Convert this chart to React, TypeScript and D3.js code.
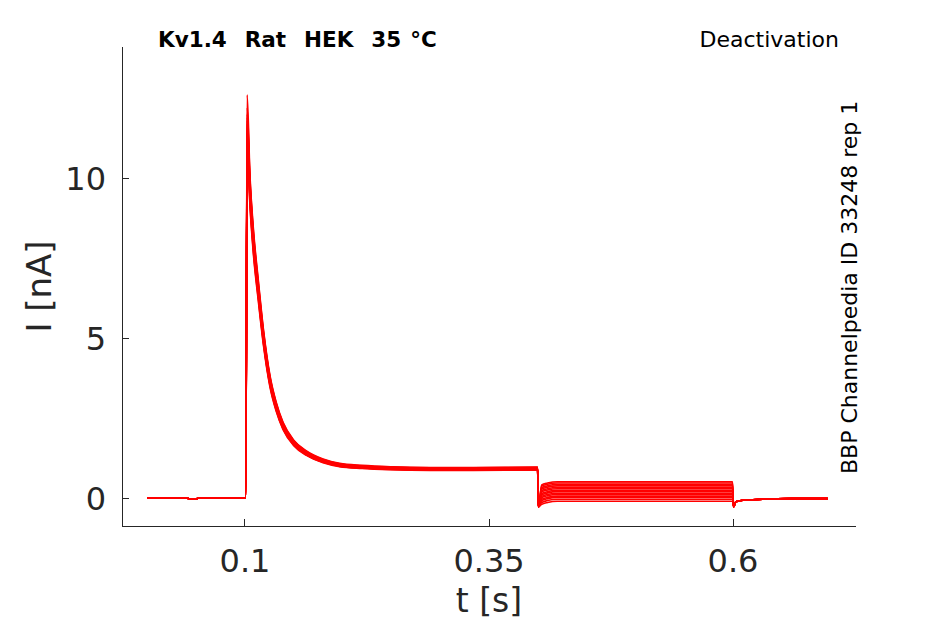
import React from "react";
import * as d3 from "d3";

// ---- data ----
const xTicks = [0.1, 0.35, 0.6];
const xTickLabels = ["0.1", "0.35", "0.6"];
const yTicks = [0, 5, 10];
const yTickLabels = ["0", "5", "10"];

// holding period before the step (shared by all sweeps)
const baseT = [0.0, 0.041, 0.043, 0.05, 0.052, 0.1008];
const baseI = [0.0, 0.0, -0.04, -0.04, 0.0, 0.0];

// activation / inactivation shape after the peak (nA), shared
const actT = [0.1051, 0.1085, 0.1136, 0.119, 0.1256, 0.132, 0.139, 0.15, 0.163, 0.18, 0.197, 0.22, 0.249, 0.29, 0.334, 0.3998];
const actI = [9.6, 8.06, 6.5, 5.0, 3.65, 2.85, 2.25, 1.72, 1.4, 1.16, 1.03, 0.97, 0.93, 0.91, 0.91, 0.92];
const peakT = 0.1022;

// per-sweep values
const sweepPeak = [12.6, 12.2, 12.0, 11.9, 11.8, 11.7, 11.6, 11.5, 11.4, 11.3, 11.2, 11.1, 11.05, 11.0];
const sweepGain = [1.05, 1.04, 1.03, 1.02, 1.02, 1.01, 1.0, 1.0, 0.99, 0.98, 0.98, 0.97, 0.96, 0.95];
const tailLevel = [0.51, 0.47, 0.42, 0.38, 0.33, 0.29, 0.24, 0.2, 0.15, 0.11, 0.06, 0.02, -0.04, -0.1];

// deactivation step transient (relative to each sweep's tail level)
const tailT = [0.4006, 0.404, 0.41, 0.42, 0.5995];
const tailDip = -0.28;
const tailRelax = [null, -0.1, -0.04, 0.0, 0.0];

// return to holding (shared)
const endT = [0.6006, 0.603, 0.61, 0.63, 0.66, 0.697];
const endI = [-0.27, -0.12, -0.07, -0.04, -0.02, -0.02];

const titleText = "Kv1.4  Rat  HEK  35 °C";
const protocolText = "Deactivation";
const sideText = "BBP Channelpedia ID 33248 rep 1";
const xLabel = "t [s]";
const yLabel = "I [nA]";

type Pt = [number, number];

function buildSweep(i: number): Pt[] {
  const pts: Pt[] = [];
  baseT.forEach((t, k) => pts.push([t, baseI[k]]));
  pts.push([peakT, sweepPeak[i]]);
  actT.forEach((t, k) => pts.push([t, actI[k] * sweepGain[i]]));
  tailT.forEach((t, k) => {
    const r = tailRelax[k];
    pts.push([t, r === null ? tailDip : tailLevel[i] + r]);
  });
  endT.forEach((t, k) => pts.push([t, endI[k]]));
  return pts;
}

export default function App() {
  const W = 945;
  const H = 624;
  const left = 122;
  const right = 856;
  const top = 47;
  const bottom = 526;

  const x = d3.scaleLinear().domain([-0.026, 0.726]).range([left, right]);
  const y = d3.scaleLinear().domain([-0.875, 14.094]).range([bottom, top]);

  const line = d3
    .line<Pt>()
    .x((d) => x(d[0]))
    .y((d) => y(d[1]))
    .curve(d3.curveMonotoneX);

  const sweeps = sweepPeak.map((_, i) => buildSweep(i));
  const axisColor = "#262626";
  const font = "'DejaVu Sans', sans-serif";

  return (
    <svg
      width={W}
      height={H}
      viewBox={`0 0 ${W} ${H}`}
      style={{ position: "absolute", left: 0, top: 0, background: "#fff" }}
      fontFamily={font}
    >
      <rect x={0} y={0} width={W} height={H} fill="#fff" />
      {/* traces */}
      <g>
        {sweeps.map((s, i) => (
          <path key={i} d={line(s) || ""} fill="none" stroke="#ff0000" strokeWidth={1.6} strokeLinejoin="round" />
        ))}
      </g>
      {/* axes */}
      <g stroke={axisColor} strokeWidth={1} fill="none" shapeRendering="crispEdges">
        <line x1={left} y1={top} x2={left} y2={bottom} />
        <line x1={left} y1={bottom} x2={right} y2={bottom} />
        {xTicks.map((t) => (
          <line key={"xt" + t} x1={x(t)} x2={x(t)} y1={bottom} y2={bottom - 7} />
        ))}
        {yTicks.map((t) => (
          <line key={"yt" + t} x1={left} x2={left + 7} y1={y(t)} y2={y(t)} />
        ))}
      </g>
      {xTicks.map((t, k) => (
        <text key={"xl" + t} x={x(t)} y={572} textAnchor="middle" fontSize={32} fill={axisColor}>
          {xTickLabels[k]}
        </text>
      ))}
      {yTicks.map((t, k) => (
        <text key={"yl" + t} x={106} y={y(t)} dy="0.36em" textAnchor="end" fontSize={32} fill={axisColor}>
          {yTickLabels[k]}
        </text>
      ))}
      <text x={x(0.35)} y={612} textAnchor="middle" fontSize={33} fill={axisColor}>
        {xLabel}
      </text>
      <text
        transform={`translate(51, ${(top + bottom) / 2}) rotate(-90)`}
        textAnchor="middle"
        fontSize={34}
        fill={axisColor}
      >
        {yLabel}
      </text>
      <text x={158} y={47} fontSize={21.5} fontWeight="bold" fill="#000" style={{ whiteSpace: "pre" }} wordSpacing={1.5}>
        {titleText}
      </text>
      <text x={839} y={47} textAnchor="end" fontSize={22} fill="#000">
        {protocolText}
      </text>
      <text transform="translate(857, 474) rotate(-90)" fontSize={22} fill="#000">
        {sideText}
      </text>
    </svg>
  );
}
